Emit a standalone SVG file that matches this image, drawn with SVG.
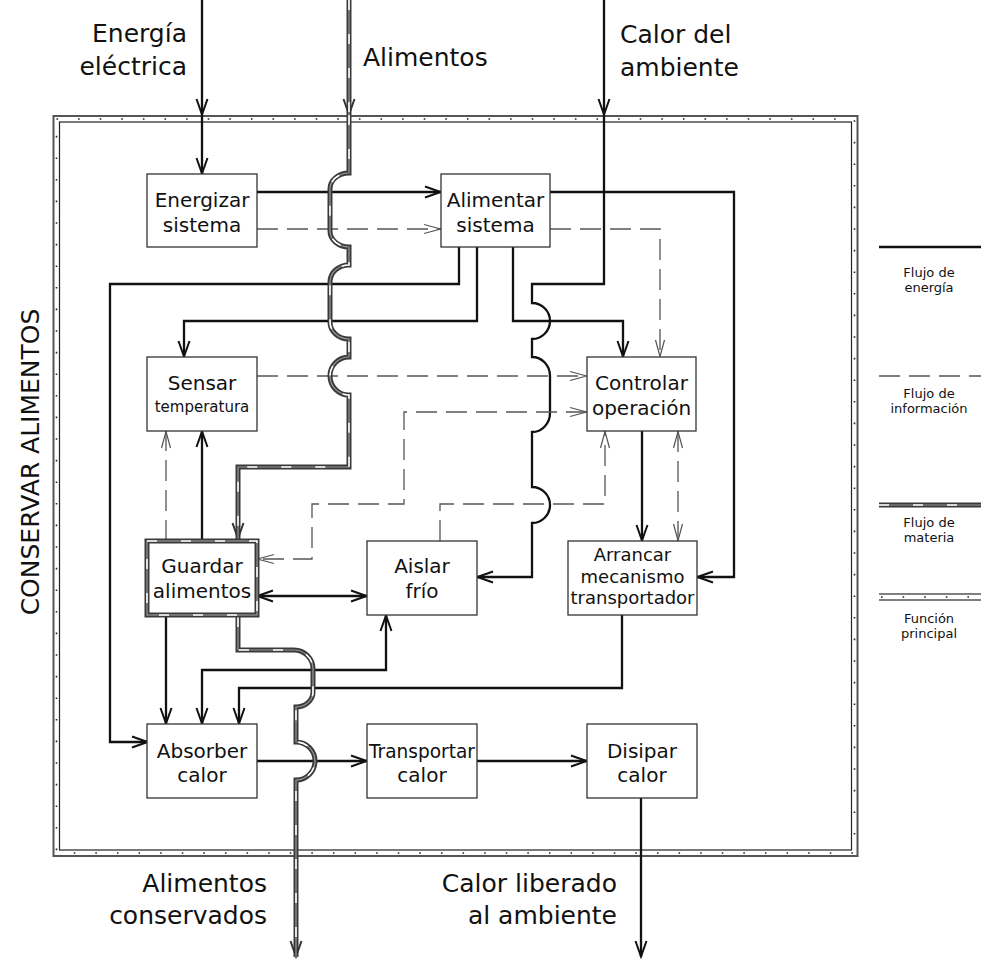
<svg xmlns="http://www.w3.org/2000/svg" width="981" height="963" viewBox="0 0 981 963">
  <style>
    text { font-family: "DejaVu Sans", Verdana, sans-serif; fill: #111; }
    .lbl { font-size: 25px; }
    .nt { font-size: 20px; text-anchor: middle; }
    .lg { font-size: 13px; text-anchor: middle; }
    .box { fill: #fff; stroke: #333; stroke-width: 1.3; }
    .en { fill: none; stroke: #111; stroke-width: 2.3; }
    .inf { fill: none; stroke: #555; stroke-width: 1.3; stroke-dasharray: 21 9; }
    .mo { fill: none; stroke: #3a3a3a; stroke-width: 5; }
    .mi { fill: none; stroke: #9a9a9a; stroke-width: 1.2; }
    .md { fill: none; stroke: #fff; stroke-width: 1.6; stroke-dasharray: 10 24; }
    .ea { marker-end: url(#ae); }
    .eb { marker-start: url(#ae); marker-end: url(#ae); }
    .ia { marker-end: url(#ai); }
    .ib { marker-start: url(#ai); marker-end: url(#ai); }
    .ma { marker-end: url(#am); }
  </style>
  <defs>
    <marker id="ae" viewBox="-18 -8 20 16" refX="0" refY="0" markerWidth="20" markerHeight="16" markerUnits="userSpaceOnUse" orient="auto-start-reverse">
      <path d="M-16,-5.5 L-0.5,0 L-16,5.5" fill="none" stroke="#111" stroke-width="2"/>
    </marker>
    <marker id="ai" viewBox="-18 -8 20 16" refX="0" refY="0" markerWidth="20" markerHeight="16" markerUnits="userSpaceOnUse" orient="auto-start-reverse">
      <path d="M-17,-4.5 L-0.5,0 L-17,4.5" fill="none" stroke="#555" stroke-width="1.2"/>
    </marker>
    <marker id="am" viewBox="-18 -8 20 16" refX="0" refY="0" markerWidth="20" markerHeight="16" markerUnits="userSpaceOnUse" orient="auto">
      <path d="M-16,-5.5 L-0.5,0 L-16,5.5" fill="none" stroke="#333" stroke-width="2"/>
    </marker>
    <!-- material flow routes -->
    <path id="m0" d="M349,0 V115"/>
    <path id="m1" d="M349,115 V173 A19,16 0 0 0 330,189 V231 A19,16 0 0 0 349,247 V265 A19,17 0 0 0 330,282 V322 A19,17 0 0 0 349,339 V357 A19,19 0 0 0 349,395 V467 H238 V539"/>
    <path id="m2" d="M238,617 V650 H294 A19,19 0 0 1 313,669 V692 A17,15 0 0 1 296,707 V742 A19,19 0 0 1 296,780 V957"/>
    <path id="mleg" d="M879,505 H981"/>
  </defs>

  <!-- main function boundary -->
  <g id="frame">
    <rect x="53.5" y="116" width="804" height="740" fill="none" stroke="#555" stroke-width="2"/>
    <rect x="56.5" y="119" width="798" height="734" fill="none" stroke="#222" stroke-width="1.6" stroke-dasharray="1.6 20"/>
    <rect x="59.5" y="122" width="792" height="728" fill="none" stroke="#222" stroke-width="1.2"/>
    <text class="lbl" transform="translate(39,462) rotate(-90)" text-anchor="middle">CONSERVAR ALIMENTOS</text>
  </g>

  <g id="connectors">
    <!-- energy -->
    <path class="en ea" d="M202,0 V115"/>
    <path class="en ea" d="M202,115 V174"/>
    <path class="en ea" d="M257,192 H441"/>
    <path class="en ea" d="M550,192 H734 V577 H697"/>
    <path class="en ea" d="M459,247 V284 H110 V742 H148"/>
    <path class="en ea" d="M477,247 V321 H184 V357"/>
    <path class="en ea" d="M513,247 V321 H623 V357"/>
    <path class="en ea" d="M604,0 V115"/>
    <path class="en ea" d="M604,115 V284 H532 V303 A18,18 0 0 1 532,339 V357 A18,19 0 0 1 550,376 V413 A18,19 0 0 1 532,432 V487 A18,18 0 0 1 532,523 V577 H477"/>
    <path class="en ea" d="M642,431 V541"/>
    <path class="en ea" d="M202,541 V431"/>
    <path class="en eb" d="M257,596 H367"/>
    <path class="en ea" d="M166,615 V724"/>
    <path class="en eb" d="M386,615 V670 H202 V724"/>
    <path class="en ea" d="M622,615 V688 H239 V724"/>
    <path class="en ea" d="M257,761 H367"/>
    <path class="en ea" d="M477,761 H587"/>
    <path class="en ea" d="M641,798 V957"/>
    <!-- information -->
    <path class="inf ia" d="M257,229 H441"/>
    <path class="inf ia" d="M550,229 H660 V357"/>
    <path class="inf ia" d="M257,376 H587"/>
    <path class="inf ib" d="M587,412 H404 V504 H312 V559 H257"/>
    <path class="inf ia" d="M440,541 V504 H605 V431"/>
    <path class="inf ib" d="M678,431 V541"/>
    <path class="inf ia" d="M166,541 V431"/>
    <!-- material -->
    <use href="#m0" class="mo ma"/><use href="#m0" class="mi"/><use href="#m0" class="md"/>
    <use href="#m1" class="mo ma"/><use href="#m1" class="mi"/><use href="#m1" class="md"/>
    <use href="#m2" class="mo ma"/><use href="#m2" class="mi"/><use href="#m2" class="md"/>
  </g>

  <g id="energizar">
    <rect class="box" x="147" y="174" width="110" height="73"/>
    <text class="nt" x="202" y="207">Energizar</text>
    <text class="nt" x="202" y="232">sistema</text>
  </g>
  <g id="alimentar">
    <rect class="box" x="441" y="174" width="109" height="73"/>
    <text class="nt" x="495.5" y="207">Alimentar</text>
    <text class="nt" x="495.5" y="232">sistema</text>
  </g>
  <g id="sensar">
    <rect class="box" x="147" y="357" width="110" height="74"/>
    <text class="nt" x="202" y="390">Sensar</text>
    <text class="nt" x="202" y="412" style="font-size:15px">temperatura</text>
  </g>
  <g id="controlar">
    <rect class="box" x="587" y="357" width="109" height="74"/>
    <text class="nt" x="641.5" y="390">Controlar</text>
    <text class="nt" x="641.5" y="415">operación</text>
  </g>
  <g id="guardar">
    <rect x="147" y="541" width="110" height="74" fill="#fff" stroke="#3a3a3a" stroke-width="5"/>
    <rect x="147" y="541" width="110" height="74" fill="none" stroke="#9a9a9a" stroke-width="1.2"/>
    <rect x="147" y="541" width="110" height="74" fill="none" stroke="#fff" stroke-width="1.6" stroke-dasharray="10 24"/>
    <text class="nt" x="202" y="573">Guardar</text>
    <text class="nt" x="202" y="598">alimentos</text>
  </g>
  <g id="aislar">
    <rect class="box" x="367" y="541" width="110" height="74"/>
    <text class="nt" x="422" y="573">Aislar</text>
    <text class="nt" x="422" y="598">frío</text>
  </g>
  <g id="arrancar">
    <rect class="box" x="568" y="541" width="129" height="74"/>
    <text class="nt" x="632.5" y="561" style="font-size:18px">Arrancar</text>
    <text class="nt" x="632.5" y="583" style="font-size:18px">mecanismo</text>
    <text class="nt" x="632.5" y="604" style="font-size:18px" textLength="124" lengthAdjust="spacingAndGlyphs">transportador</text>
  </g>
  <g id="absorber">
    <rect class="box" x="147" y="724" width="110" height="74"/>
    <text class="nt" x="202" y="758">Absorber</text>
    <text class="nt" x="202" y="782">calor</text>
  </g>
  <g id="transportar">
    <rect class="box" x="367" y="724" width="110" height="74"/>
    <text class="nt" x="422" y="758" textLength="106" lengthAdjust="spacingAndGlyphs">Transportar</text>
    <text class="nt" x="422" y="782">calor</text>
  </g>
  <g id="disipar">
    <rect class="box" x="587" y="724" width="110" height="74"/>
    <text class="nt" x="642" y="758">Disipar</text>
    <text class="nt" x="642" y="782">calor</text>
  </g>

  <g id="io-labels">
    <text class="lbl" x="187" y="42" text-anchor="end">Energía</text>
    <text class="lbl" x="187" y="75" text-anchor="end">eléctrica</text>
    <text class="lbl" x="363" y="66">Alimentos</text>
    <text class="lbl" x="620" y="43">Calor del</text>
    <text class="lbl" x="620" y="76">ambiente</text>
    <text class="lbl" x="267" y="892" text-anchor="end">Alimentos</text>
    <text class="lbl" x="267" y="924" text-anchor="end">conservados</text>
    <text class="lbl" x="617" y="892" text-anchor="end">Calor liberado</text>
    <text class="lbl" x="617" y="924" text-anchor="end">al ambiente</text>
  </g>

  <g id="legend">
    <path d="M879,247 H981" fill="none" stroke="#111" stroke-width="2.5"/>
    <text class="lg" x="929" y="277">Flujo de</text>
    <text class="lg" x="929" y="292">energía</text>
    <path d="M879,376 H981" class="inf"/>
    <text class="lg" x="929" y="398">Flujo de</text>
    <text class="lg" x="929" y="413">información</text>
    <use href="#mleg" class="mo"/><use href="#mleg" class="mi"/><use href="#mleg" class="md"/>
    <text class="lg" x="929" y="527">Flujo de</text>
    <text class="lg" x="929" y="542">materia</text>
    <path d="M879,594 H981 M879,600 H981" fill="none" stroke="#555" stroke-width="1.4"/>
    <path d="M881,597 H981" fill="none" stroke="#222" stroke-width="1.6" stroke-dasharray="1.6 20"/>
    <text class="lg" x="929" y="623">Función</text>
    <text class="lg" x="929" y="638">principal</text>
  </g>
</svg>
